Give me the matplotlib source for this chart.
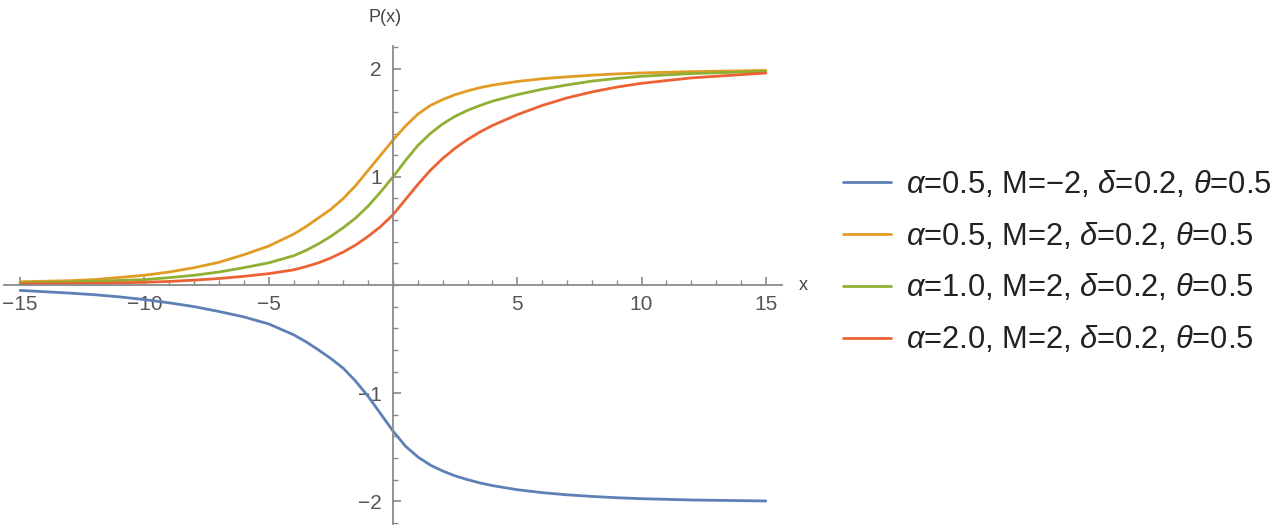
import matplotlib
matplotlib.use("Agg")
import matplotlib.pyplot as plt
from matplotlib.ticker import MultipleLocator, FixedLocator

plt.rcParams['font.family'] = ['Liberation Sans', 'DejaVu Sans']
plt.rcParams['mathtext.fontset'] = 'custom'
plt.rcParams['mathtext.rm'] = 'Liberation Sans'
plt.rcParams['mathtext.it'] = 'Liberation Sans:italic'
plt.rcParams['axes.unicode_minus'] = True

# sample x positions
x_vals = [-15, -13, -12, -11, -10, -9, -8, -7, -6, -5, -4, -3.5, -3, -2.5, -2, -1.5,
          -1, -0.5, 0, 0.5, 1, 1.5, 2, 2.5, 3, 3.5, 4, 5, 6, 7, 8, 9, 10, 12, 15]

blue_vals = [-0.05, -0.075, -0.09, -0.11, -0.135, -0.165, -0.20, -0.245, -0.295, -0.36,
             -0.46, -0.525, -0.60, -0.68, -0.77, -0.89,
             -1.03, -1.19, -1.35, -1.49, -1.59, -1.665, -1.72, -1.765, -1.80, -1.83,
             -1.855, -1.893, -1.92, -1.94, -1.955, -1.967, -1.976, -1.988, -1.997]
orange_vals = [0.03, 0.04, 0.05, 0.07, 0.09, 0.12, 0.16, 0.21, 0.28, 0.36,
               0.47, 0.54, 0.62, 0.70, 0.80, 0.92,
               1.06, 1.20, 1.34, 1.47, 1.58, 1.66, 1.715, 1.76, 1.795, 1.825,
               1.848, 1.882, 1.907, 1.925, 1.94, 1.952, 1.961, 1.973, 1.984]
green_vals = [0.02, 0.028, 0.035, 0.042, 0.05, 0.068, 0.09, 0.12, 0.16, 0.205,
              0.27, 0.32, 0.38, 0.45, 0.53, 0.62,
              0.73, 0.86, 1.00, 1.15, 1.29, 1.40, 1.49, 1.56, 1.615, 1.66,
              1.70, 1.76, 1.81, 1.85, 1.885, 1.91, 1.93, 1.955, 1.976]
red_vals = [0.01, 0.013, 0.015, 0.02, 0.025, 0.033, 0.045, 0.06, 0.08, 0.105,
            0.14, 0.17, 0.205, 0.25, 0.305, 0.37,
            0.45, 0.54, 0.65, 0.79, 0.93, 1.06, 1.17, 1.265, 1.345, 1.415,
            1.475, 1.575, 1.66, 1.73, 1.785, 1.83, 1.865, 1.915, 1.96]

labels = [r"$\alpha$=0.5, M=−2, $\delta$=0.2, $\theta$=0.5",
          r"$\alpha$=0.5, M=2, $\delta$=0.2, $\theta$=0.5",
          r"$\alpha$=1.0, M=2, $\delta$=0.2, $\theta$=0.5",
          r"$\alpha$=2.0, M=2, $\delta$=0.2, $\theta$=0.5"]
colors = ['#5E81B5', '#E19C24', '#8FB032', '#EB6235']

x_major = [-15, -10, -5, 5, 10, 15]
y_major = [-2, -1, 1, 2]

fig = plt.figure(figsize=(12.8, 5.3), dpi=100)
ax = fig.add_axes([4/1280, 6/530, 778/1280, 478/530])

for ys, c, lab in zip([blue_vals, orange_vals, green_vals, red_vals], colors, labels):
    ax.plot(x_vals, ys, color=c, lw=2.0, label=lab, solid_capstyle='round',
            solid_joinstyle='round')

ax.set_xlim(-15.65, 15.65)
ax.set_ylim(-2.21, 2.21)

axis_col = '#8a8a8a'
for s in ['top', 'right']:
    ax.spines[s].set_visible(False)
for s in ['left', 'bottom']:
    ax.spines[s].set_position(('data', 0))
    ax.spines[s].set_color(axis_col)
    ax.spines[s].set_linewidth(1.3)

ax.xaxis.set_major_locator(FixedLocator(x_major))
ax.yaxis.set_major_locator(FixedLocator(y_major))
ax.xaxis.set_minor_locator(MultipleLocator(1))
ax.yaxis.set_minor_locator(MultipleLocator(0.2))
ax.tick_params(which='major', direction='in', length=6, width=1.2, color=axis_col,
               labelsize=15, labelcolor='#555555')
ax.tick_params(which='minor', direction='in', length=3.5, width=1.0, color=axis_col)
ax.tick_params(axis='x', which='major', pad=7)
ax.tick_params(axis='y', which='major', pad=8)
ax.set_xticklabels([str(v).replace('-', '−') for v in x_major])
ax.set_yticklabels([str(v).replace('-', '−') for v in y_major])
ax.patch.set_visible(False)

fig.text(385/1280, 1 - 18/530, 'P(x)', ha='center', va='center', fontsize=13, color='#444444')
fig.text(803/1280, 1 - 285/530, 'x', ha='center', va='center', fontsize=13, color='#444444')

leg = fig.legend(loc='center left', bbox_to_anchor=(843/1280, 1 - 262/530), frameon=False,
                 fontsize=22.2, handlelength=1.55, handletextpad=0.5, labelspacing=0.68,
                 borderpad=0, borderaxespad=0)
for t in leg.get_texts():
    t.set_color('#222222')

fig.savefig('out.png', dpi=100)
